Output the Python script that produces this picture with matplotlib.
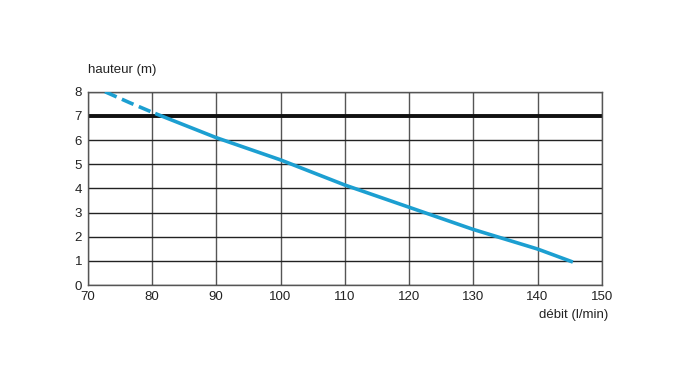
import matplotlib.pyplot as plt

# courbe débit / hauteur
debit_dash = [72.7, 76.5, 80.5]
hauteur_dash = [8.0, 7.55, 7.1]
debit = [80.5, 90, 100, 110, 120, 130, 140, 145.5]
hauteur = [7.1, 6.1, 5.18, 4.14, 3.22, 2.3, 1.49, 0.95]

hauteur_ref = 7
x_ticks = [70, 80, 90, 100, 110, 120, 130, 140, 150]
y_ticks = [0, 1, 2, 3, 4, 5, 6, 7, 8]

plt.rcParams["font.family"] = ["Liberation Sans", "DejaVu Sans"]

fig = plt.figure(figsize=(6.8, 3.67), dpi=100)
ax = fig.add_axes([0.129, 0.2234, 0.756, 0.5266])

ax.set_xlim(70, 150)
ax.set_ylim(0, 8)
ax.set_xticks(x_ticks)
ax.set_yticks(y_ticks)
ax.tick_params(length=0, labelsize=9.5, labelcolor="#222222", pad=4)

# grille
for x in x_ticks:
    ax.axvline(x, color="#555555", lw=1.0, zorder=1)
for y in y_ticks:
    ax.axhline(y, color="#222222", lw=1.0, zorder=1)
for s in ax.spines.values():
    s.set_color("#555555")
    s.set_linewidth(1.0)

ax.axhline(hauteur_ref, color="#111111", lw=2.8, zorder=2)

blue = "#1c9fd1"
ax.plot(debit_dash, hauteur_dash, color=blue, lw=2.6, ls=(0, (3.5, 1.6)), zorder=3,
        solid_capstyle="butt")
ax.plot(debit, hauteur, color=blue, lw=2.6, zorder=3, solid_capstyle="butt")

fig.text(0.129, 0.792, "hauteur (m)", fontsize=9.5, color="#222222",
         ha="left", va="bottom")
fig.text(0.894, 0.125, "débit (l/min)", fontsize=9.5, color="#222222",
         ha="right", va="bottom")

fig.savefig("out.png", dpi=100)
